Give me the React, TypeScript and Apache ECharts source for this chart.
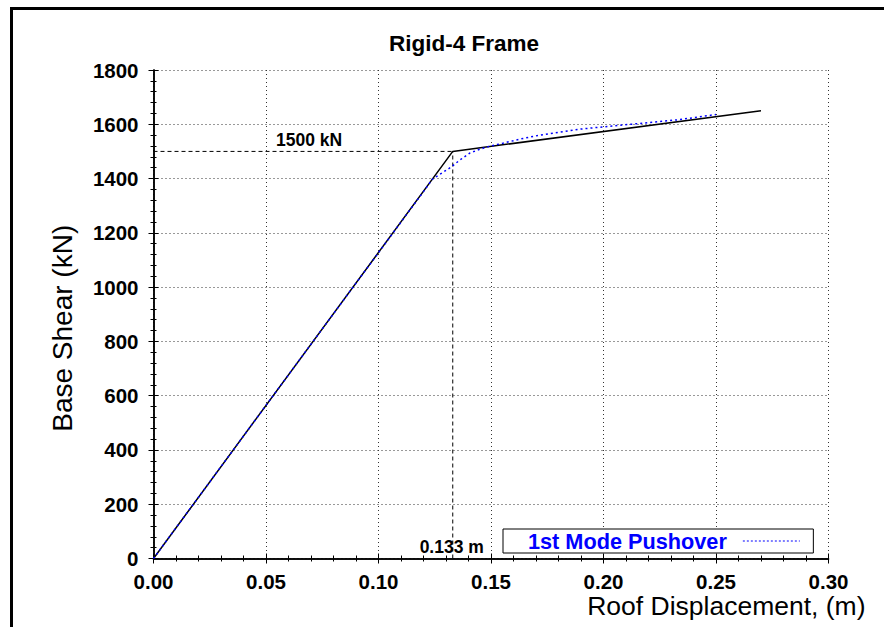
import React, { useEffect, useRef } from "react";
import * as echarts from "echarts";

// Labels
const chartTitle = "Rigid-4 Frame";
const xAxisName = "Roof Displacement, (m)";
const yAxisName = "Base Shear (kN)";
const pushoverName = "1st Mode Pushover";

// Axis ranges / tick steps
const xMin = 0;
const xMax = 0.3;
const xStep = 0.05;
const yMin = 0;
const yMax = 1800;
const yStep = 200;

// Idealised bilinear capacity curve
const bilinearDisp = [0, 0.133, 0.27];
const bilinearShear = [0, 1500, 1650];

// Yield point of the bilinear idealisation
const yieldDisp = 0.133;
const yieldShear = 1500;

// 1st-mode pushover curve
const pushoverDisp = [
  0, 0.06, 0.12, 0.124, 0.1324, 0.1361, 0.1406, 0.145, 0.1494, 0.1552, 0.1627,
  0.1716, 0.1805, 0.1894, 0.198, 0.216, 0.2337, 0.25,
];
const pushoverShear = [
  0, 677, 1352, 1398, 1443, 1468, 1494, 1508, 1519, 1530, 1545, 1560, 1571,
  1582, 1589, 1603, 1617, 1636,
];

const FONT = "'Liberation Sans', Arial, Helvetica, sans-serif";

const zip = (xs: number[], ys: number[]) => xs.map((x, i) => [x, ys[i]]);

export default function App() {
  const ref = useRef<HTMLDivElement>(null);

  useEffect(() => {
    if (!ref.current) return;
    const chart = echarts.init(ref.current, undefined, { renderer: "svg" });

    const gridLeft = 153.5;
    const gridTop = 70;
    const gridRight = 55.5;
    const gridBottom = 68.5;

    const tickCommon = {
      axisLine: { show: true, lineStyle: { color: "#000", width: 1.5 } },
      axisTick: { show: true, inside: true, length: 5, lineStyle: { color: "#000", width: 1 } },
      minorTick: { show: true, splitNumber: 5, length: 3, lineStyle: { color: "#000", width: 1 } },
    };

    chart.setOption({
      animation: false,
      backgroundColor: "#fff",
      title: {
        text: chartTitle,
        left: 459,
        top: 27,
        textAlign: "center",
        textStyle: { fontFamily: FONT, fontWeight: "bold", fontSize: 22.5, color: "#000" },
      },
      grid: {
        left: gridLeft,
        top: gridTop,
        right: gridRight,
        bottom: gridBottom,
        containLabel: false,
        outerBoundsMode: "none",
      },
      legend: {
        data: [pushoverName],
        left: 503,
        top: 529,
        align: "right",
        itemWidth: 57,
        itemHeight: 10,
        padding: [1, 13, 1, 25],
        borderColor: "#000",
        borderWidth: 1,
        backgroundColor: "#fff",
        itemStyle: { opacity: 0 },
        lineStyle: { width: 1, type: [2, 2], color: "#0000ff" },
        textStyle: {
          color: "#0000ff",
          fontFamily: FONT,
          fontWeight: "bold",
          fontSize: 21.7,
          lineHeight: 20,
          padding: [0, 11, 0, 0],
        },
      },
      xAxis: [
        {
          type: "value",
          min: xMin,
          max: xMax,
          interval: xStep,
          ...tickCommon,
          axisLabel: {
            margin: 12,
            fontFamily: FONT,
            fontWeight: "bold",
            fontSize: 20.5,
            color: "#000",
            formatter: (v: number) => v.toFixed(2),
          },
          splitLine: { show: true, lineStyle: { color: "#333", type: [1, 3], width: 1 } },
        },
        {
          type: "value",
          position: "top",
          min: xMin,
          max: xMax,
          interval: xStep,
          ...tickCommon,
          axisLabel: { show: false },
          splitLine: { show: false },
        },
      ],
      yAxis: [
        {
          type: "value",
          min: yMin,
          max: yMax,
          interval: yStep,
          name: yAxisName,
          nameLocation: "middle",
          nameGap: 77,
          nameRotate: 90,
          nameMoveOverlap: false,
          nameTextStyle: {
            fontFamily: FONT,
            fontSize: 28,
            color: "#000",
            padding: [0, 28, 0, 0],
          },
          ...tickCommon,
          axisLabel: {
            margin: 15,
            fontFamily: FONT,
            fontWeight: "bold",
            fontSize: 20.5,
            color: "#000",
            formatter: (v: number) => String(v),
          },
          splitLine: { show: true, lineStyle: { color: "#333", type: [1, 3], width: 1 } },
        },
        {
          type: "value",
          position: "right",
          min: yMin,
          max: yMax,
          interval: yStep,
          ...tickCommon,
          axisLabel: { show: false },
          splitLine: { show: false },
        },
      ],
      series: [
        {
          name: "Yield shear",
          type: "line",
          data: [
            [xMin, yieldShear],
            [yieldDisp, yieldShear],
          ],
          symbol: "none",
          silent: true,
          lineStyle: { color: "#000", width: 1, type: [4, 3] },
          z: 3,
        },
        {
          name: "Yield displacement",
          type: "line",
          data: [
            [yieldDisp, yMin],
            [yieldDisp, yieldShear],
          ],
          symbol: "none",
          silent: true,
          lineStyle: { color: "#000", width: 1, type: [4, 3] },
          z: 3,
        },
        {
          name: "Bilinear",
          type: "line",
          data: zip(bilinearDisp, bilinearShear),
          symbol: "none",
          lineStyle: { color: "#000", width: 1.5 },
          z: 4,
        },
        {
          name: pushoverName,
          type: "line",
          data: zip(pushoverDisp, pushoverShear),
          symbol: "none",
          smooth: false,
          lineStyle: { color: "#0000ff", width: 1.5, type: [2, 3] },
          itemStyle: { color: "#0000ff" },
          z: 5,
        },
      ],
    });

    // Annotations placed through the axes' own scales
    const knee = chart.convertToPixel({ xAxisIndex: 0, yAxisIndex: 0 }, [yieldDisp, yieldShear]);
    const base = chart.convertToPixel({ xAxisIndex: 0, yAxisIndex: 0 }, [yieldDisp, yMin]);
    const corner = chart.convertToPixel({ xAxisIndex: 0, yAxisIndex: 0 }, [xMax, yMin]);
    chart.setOption({
      graphic: [
        {
          type: "rect",
          silent: true,
          z: 100,
          shape: { x: 11.5, y: 8.5, width: 1000, height: 1000 },
          style: { fill: "none", stroke: "#000", lineWidth: 3 },
        },
        {
          type: "text",
          silent: true,
          z: 50,
          x: corner[0] + 37,
          y: corner[1] + 47,
          style: {
            text: xAxisName,
            fontFamily: FONT,
            fontSize: 26.5,
            fill: "#000",
            align: "right",
            verticalAlign: "middle",
          },
        },
        {
          type: "text",
          silent: true,
          z: 50,
          x: (gridLeft + knee[0]) / 2 + 6,
          y: knee[1] - 11,
          style: {
            text: `${yieldShear} kN`,
            fontFamily: FONT,
            fontWeight: "bold",
            fontSize: 17.5,
            fill: "#000",
            align: "center",
            verticalAlign: "middle",
          },
        },
        {
          type: "text",
          silent: true,
          z: 50,
          x: base[0] - 1,
          y: base[1] - 12,
          style: {
            text: `${yieldDisp} m`,
            fontFamily: FONT,
            fontWeight: "bold",
            fontSize: 17.5,
            fill: "#000",
            align: "center",
            verticalAlign: "middle",
          },
        },
      ],
    });

    return () => chart.dispose();
  }, []);

  return (
    <div
      ref={ref}
      style={{ position: "absolute", left: 0, top: 0, width: 884, height: 627, background: "#fff" }}
    />
  );
}
